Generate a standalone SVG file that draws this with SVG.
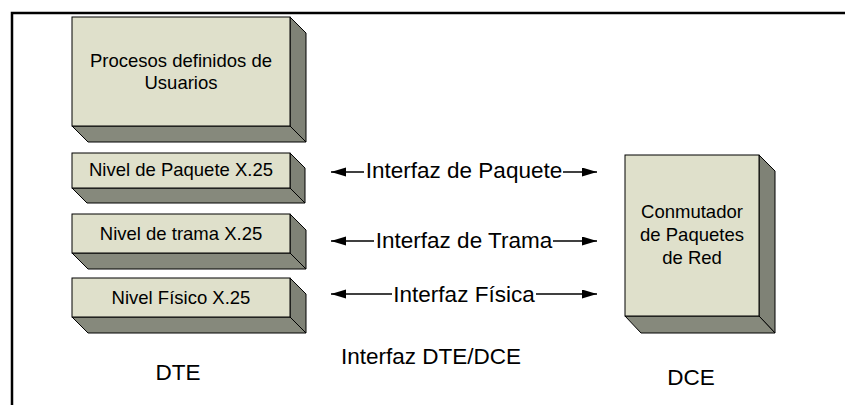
<svg xmlns="http://www.w3.org/2000/svg" width="845" height="405" viewBox="0 0 845 405">
<style>
.front{fill:#dfe0cb;stroke:#000;stroke-width:1}
.side{fill:#7f8276;stroke:#000;stroke-width:1;stroke-linejoin:round}
.bot{fill:#86897c;stroke:#000;stroke-width:1;stroke-linejoin:round}
.t{font-family:"Liberation Sans",Arial,sans-serif;fill:#000;text-anchor:middle}
.bx{font-size:18.5px}
.lb{font-size:22.5px}
.conn{stroke:#000;stroke-width:1.4;fill:none}
</style>
<defs>
<marker id="ah" markerUnits="userSpaceOnUse" markerWidth="16" markerHeight="10" refX="15" refY="4.5" orient="auto">
<path d="M0,0 L15,4.5 L0,9 z" fill="#000"/>
</marker>
</defs>
<rect width="845" height="405" fill="#fff"/>
<path d="M12,405 V13 H845" fill="none" stroke="#000" stroke-width="2.5"/>

<g id="procesos">
<polygon class="side" points="290,17 306,33 306,142 290,126"/>
<polygon class="bot" points="72,126 290,126 306,142 88,142"/>
<rect class="front" x="72" y="17" width="218" height="109"/>
<text class="t bx" x="181" y="67">Procesos definidos de</text>
<text class="t bx" x="181" y="89">Usuarios</text>
</g>

<g id="paquete">
<polygon class="side" points="290,153 305,168 305,203 290,188"/>
<polygon class="bot" points="72,188 290,188 305,203 87,203"/>
<rect class="front" x="72" y="153" width="218" height="35"/>
<text class="t bx" x="181" y="176">Nivel de Paquete X.25</text>
</g>

<g id="trama">
<polygon class="side" points="290,214 306,230 306,269 290,253"/>
<polygon class="bot" points="72,253 290,253 306,269 88,269"/>
<rect class="front" x="72" y="214" width="218" height="39"/>
<text class="t bx" x="181" y="240">Nivel de trama X.25</text>
</g>

<g id="fisico">
<polygon class="side" points="290,278 306,294 306,333 290,317"/>
<polygon class="bot" points="72,317 290,317 306,333 88,333"/>
<rect class="front" x="72" y="278" width="218" height="39"/>
<text class="t bx" x="181" y="304">Nivel Físico X.25</text>
</g>

<g id="dce-box">
<polygon class="side" points="759,155 775,171 775,333 759,316"/>
<polygon class="bot" points="625,316 759,316 775,333 641,333"/>
<rect class="front" x="625" y="155" width="134" height="161"/>
<text class="t bx" x="692" y="218">Conmutador</text>
<text class="t bx" x="692" y="241">de Paquetes</text>
<text class="t bx" x="692" y="264">de Red</text>
</g>

<g id="connectors">
<line class="conn" x1="364" y1="172" x2="331" y2="172" marker-end="url(#ah)"/>
<line class="conn" x1="563" y1="172" x2="597" y2="172" marker-end="url(#ah)"/>
<text class="t lb" x="464" y="178">Interfaz de Paquete</text>
<line class="conn" x1="374" y1="241" x2="331" y2="241" marker-end="url(#ah)"/>
<line class="conn" x1="553" y1="241" x2="597" y2="241" marker-end="url(#ah)"/>
<text class="t lb" x="464" y="248">Interfaz de Trama</text>
<line class="conn" x1="392" y1="294" x2="331" y2="294" marker-end="url(#ah)"/>
<line class="conn" x1="536" y1="294" x2="597" y2="294" marker-end="url(#ah)"/>
<text class="t lb" x="464" y="302">Interfaz Física</text>
</g>

<g id="labels">
<text class="t lb" x="178" y="380">DTE</text>
<text class="t lb" x="431" y="364">Interfaz DTE/DCE</text>
<text class="t lb" x="691" y="385">DCE</text>
</g>
</svg>
